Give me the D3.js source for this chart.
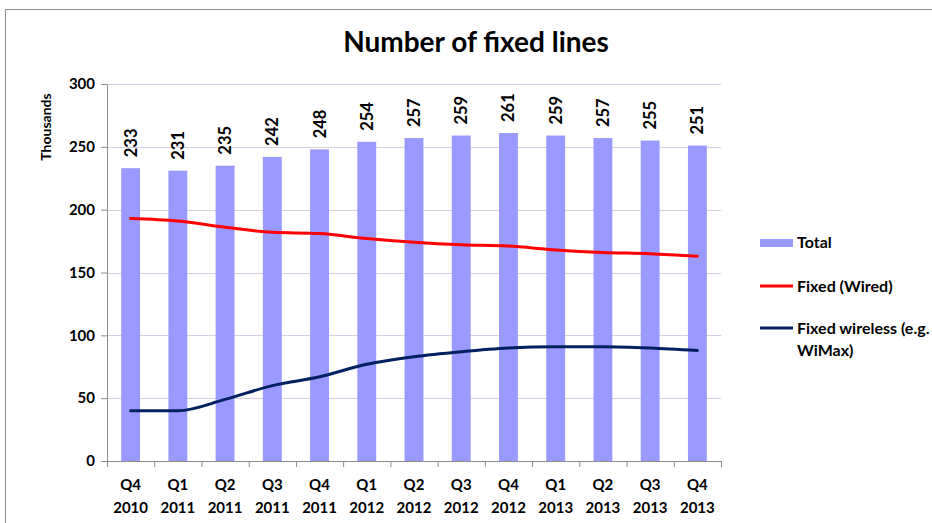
<!DOCTYPE html>
<html>
<head>
<meta charset="utf-8">
<script src="https://cdn.jsdelivr.net/npm/d3@7"></script>
<style>
  body { margin: 0; background: #fff; }
  svg { font-family: Lato, "Open Sans", sans-serif; }
</style>
</head>
<body>
<svg id="chart" width="932" height="523"></svg>
<script>
// quarters along the x axis (two-line labels)
const quarters = ['Q4', 'Q1', 'Q2', 'Q3', 'Q4', 'Q1', 'Q2', 'Q3', 'Q4', 'Q1', 'Q2', 'Q3', 'Q4'];
const years = ['2010', '2011', '2011', '2011', '2011', '2012', '2012', '2012', '2012', '2013', '2013', '2013', '2013'];

// thousands of lines
const total = [233, 231, 235, 242, 248, 254, 257, 259, 261, 259, 257, 255, 251];
const wired = [193, 191, 186, 182, 181, 177, 174, 172, 171, 168, 166, 165, 163];
const wireless = [40, 40, 49, 60, 67, 77, 83, 87, 90, 91, 91, 90, 88];

const yTicks = [0, 50, 100, 150, 200, 250, 300];

const svg = d3.select('#chart');
const margin = { top: 84, left: 107, right: 211, bottom: 62 };
const width = 932 - margin.left - margin.right;
const height = 523 - margin.top - margin.bottom;

// chart border
svg.append('rect')
  .attr('x', 5.5).attr('y', 9.5)
  .attr('width', 940).attr('height', 530)
  .attr('fill', 'none')
  .attr('stroke', '#8c8c8c');

svg.append('text')
  .attr('x', 476).attr('y', 52)
  .attr('text-anchor', 'middle')
  .attr('font-size', 28)
  .attr('font-weight', 'bold')
  .text('Number of fixed lines');

const g = svg.append('g')
  .attr('transform', `translate(${margin.left}, ${margin.top})`);

const idx = d3.range(quarters.length);
const x = d3.scaleBand().domain(idx).range([0, width]).paddingInner(0.6).paddingOuter(0.3);
const cx = i => x(i) + x.bandwidth() / 2;

const y = d3.scaleLinear().domain([0, 300]).range([height, 0]);

// gridlines
g.selectAll('.grid')
  .data(yTicks.filter(d => d > 0))
  .enter().append('line')
  .attr('x1', 0).attr('x2', width)
  .attr('y1', d => Math.round(y(d)) + 0.5)
  .attr('y2', d => Math.round(y(d)) + 0.5)
  .attr('stroke', '#d6cfe4');

// bars
g.selectAll('.bar')
  .data(total)
  .enter().append('rect')
  .attr('x', (d, i) => x(i))
  .attr('width', x.bandwidth())
  .attr('y', d => y(d))
  .attr('height', d => height - y(d))
  .attr('fill', '#9999ff');

// value labels
g.selectAll('.val')
  .data(total)
  .enter().append('text')
  .attr('transform', (d, i) => `translate(${cx(i) + 6}, ${y(d) - 11}) rotate(-90)`)
  .attr('font-size', 16.5)
  .attr('font-weight', 'bold')
  .text(d => d);

// y axis
const yAxis = g.append('g')
  .call(d3.axisLeft(y).tickValues(yTicks).tickSize(6).tickPadding(6));
yAxis.select('.domain').attr('stroke', '#8c8c8c');
yAxis.selectAll('.tick line').attr('stroke', '#8c8c8c');
yAxis.selectAll('.tick text')
  .attr('font-size', 15)
  .attr('font-weight', 'bold')
  .attr('fill', '#000')
  .attr('font-family', 'Lato, sans-serif');

// x axis: ticks at category boundaries
const xb = d3.scaleLinear().domain([0, quarters.length]).range([0, width]);
const xAxis = g.append('g')
  .attr('transform', `translate(0, ${height})`)
  .call(d3.axisBottom(xb).tickValues(d3.range(quarters.length + 1)).tickSize(6).tickFormat(''));
xAxis.select('.domain').attr('stroke', '#8c8c8c');
xAxis.selectAll('.tick line').attr('stroke', '#8c8c8c');

const xl = g.selectAll('.xl')
  .data(idx)
  .enter().append('text')
  .attr('text-anchor', 'middle')
  .attr('font-size', 15)
  .attr('font-weight', 'bold');
xl.append('tspan').attr('x', i => cx(i)).attr('y', height + 29).text(i => quarters[i]);
xl.append('tspan').attr('x', i => cx(i)).attr('y', height + 52).text(i => years[i]);

// lines
const line = d3.line()
  .x((d, i) => cx(i))
  .y(d => y(d))
  .curve(d3.curveMonotoneX);

g.append('path')
  .datum(wired)
  .attr('d', line)
  .attr('fill', 'none')
  .attr('stroke', '#ff0000')
  .attr('stroke-width', 3)
  .attr('stroke-linecap', 'round');

g.append('path')
  .datum(wireless)
  .attr('d', line)
  .attr('fill', 'none')
  .attr('stroke', '#002060')
  .attr('stroke-width', 3)
  .attr('stroke-linecap', 'round');

// y axis title
svg.append('text')
  .attr('transform', 'translate(51, 127) rotate(-90)')
  .attr('text-anchor', 'middle')
  .attr('font-size', 14)
  .attr('font-weight', 'bold')
  .text('Thousands');

// legend
const lg = svg.append('g').attr('font-size', 16).attr('font-weight', 'bold');
lg.append('rect').attr('x', 760).attr('y', 239).attr('width', 33).attr('height', 8).attr('fill', '#9999ff');
lg.append('text').attr('x', 797).attr('y', 248).text('Total');
lg.append('line').attr('x1', 760).attr('x2', 793).attr('y1', 286).attr('y2', 286)
  .attr('stroke', '#ff0000').attr('stroke-width', 3);
lg.append('text').attr('x', 797).attr('y', 292).text('Fixed (Wired)');
lg.append('line').attr('x1', 760).attr('x2', 793).attr('y1', 328).attr('y2', 328)
  .attr('stroke', '#002060').attr('stroke-width', 3);
const t3 = lg.append('text');
t3.append('tspan').attr('x', 797).attr('y', 334).text('Fixed wireless (e.g.');
t3.append('tspan').attr('x', 797).attr('y', 356).text('WiMax)');
</script>
</body>
</html>
